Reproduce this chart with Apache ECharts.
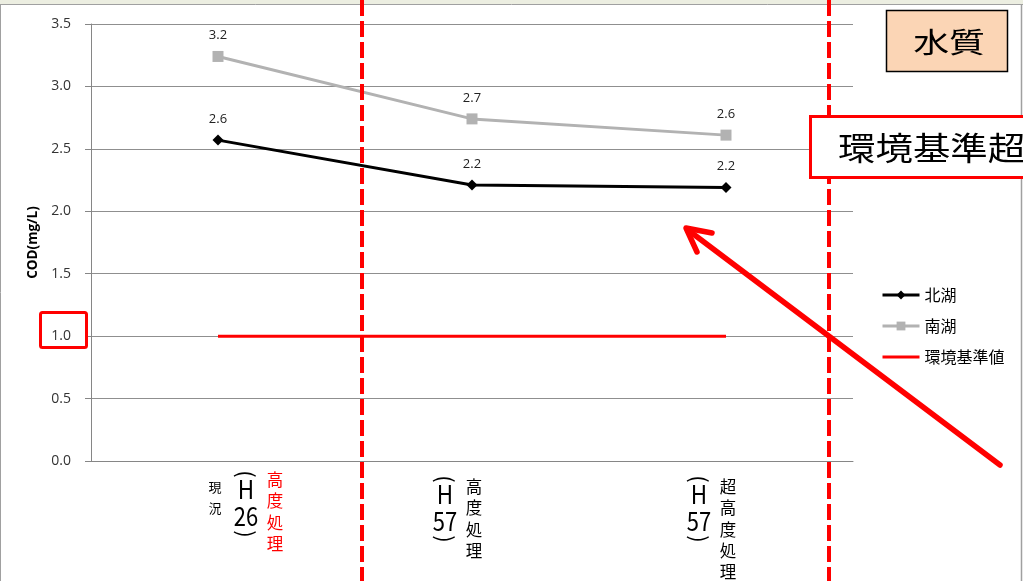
<!DOCTYPE html>
<html><head><meta charset="utf-8">
<script src="https://cdn.jsdelivr.net/npm/echarts@6/dist/echarts.min.js"></script>
<style>html,body{margin:0;padding:0;background:#fff}#c{width:1023px;height:581px}</style>
</head><body><div id="c"></div>
<script>
// ---- data ----
const categories = ['現況（H26）高度処理', '（H57）高度処理', '（H57）超高度処理'];
const noteCol = ['現況', '', ''];
const yearCol = ['26', '57', '57'];
const methodCol = ['高度処理', '高度処理', '超高度処理'];
const northLake = [2.57, 2.21, 2.19];
const southLake = [3.24, 2.74, 2.61];
const envStandard = [1.0, 1.0, 1.0];
const seriesNames = ['北湖', '南湖', '環境基準値'];
const yTicks = { min: 0, max: 3.5, interval: 0.5 };

const JP = '"Noto Sans CJK JP", "Noto Sans", sans-serif';
const NUM = '"Open Sans", "Noto Sans", sans-serif';

const chart = echarts.init(document.getElementById('c'), null, { renderer: 'canvas' });
const labelCfg = {
  show: true, position: 'top', distance: 9, fontSize: 13, color: '#222', fontFamily: NUM,
  formatter: p => p.value.toFixed(1)
};
chart.setOption({
  animation: false,
  backgroundColor: '#ffffff',
  grid: { left: 91, right: 170, top: 24, bottom: 120 },
  xAxis: {
    type: 'category', data: categories, boundaryGap: true,
    axisLine: { lineStyle: { color: '#868686', width: 1 } },
    axisTick: { length: 5, lineStyle: { color: '#868686' } },
    axisLabel: { show: false }
  },
  yAxis: {
    type: 'value', min: yTicks.min, max: yTicks.max, interval: yTicks.interval,
    name: 'COD(mg/L)', nameLocation: 'middle', nameGap: 50,
    nameTextStyle: { fontWeight: 'bold', fontSize: 13.5, color: '#000', fontFamily: NUM },
    axisLine: { show: true, lineStyle: { color: '#868686' } },
    axisTick: { show: true, length: 6, lineStyle: { color: '#868686' } },
    splitLine: { show: true, lineStyle: { color: '#8f8f8f', width: 1 } },
    axisLabel: { formatter: v => v.toFixed(1), fontSize: 14, color: '#333', margin: 20, fontFamily: NUM }
  },
  legend: {
    orient: 'vertical', left: 876, top: 282, itemWidth: 37, itemHeight: 11, itemGap: 15,
    lineStyle: { width: 3 },
    textStyle: { fontSize: 16, color: '#000', fontFamily: JP },
    data: [seriesNames[0], seriesNames[1],
      { name: seriesNames[2], itemStyle: { color: 'rgba(0,0,0,0)', borderWidth: 0, opacity: 0 } }]
  },
  series: [
    { name: seriesNames[1], type: 'line', data: southLake, symbol: 'rect', symbolSize: 11,
      lineStyle: { color: '#b2b2b2', width: 3 }, itemStyle: { color: '#b2b2b2' }, label: labelCfg, z: 3 },
    { name: seriesNames[0], type: 'line', data: northLake, symbol: 'diamond', symbolSize: 11,
      lineStyle: { color: '#000', width: 3 }, itemStyle: { color: '#000' }, label: labelCfg, z: 4 },
    { name: seriesNames[2], type: 'line', data: envStandard, symbol: 'none',
      lineStyle: { color: '#ff0000', width: 3 }, itemStyle: { color: '#ff0000' }, z: 2 }
  ]
});

// ---- annotations & stacked category labels ----
const g = [];
// frame
g.push({ type: 'rect', shape: { x: 0, y: 0, width: 1023, height: 4 }, style: { fill: '#eceee1' }, z: 1 });
g.push({ type: 'line', shape: { x1: 0, y1: 4.5, x2: 1023, y2: 4.5 }, style: { stroke: '#a0a0a0', lineWidth: 1 }, z: 1 });
g.push({ type: 'line', shape: { x1: 0.5, y1: 4, x2: 0.5, y2: 581 }, style: { stroke: '#a0a0a0', lineWidth: 1 }, z: 1 });
g.push({ type: 'line', shape: { x1: 1021.5, y1: 4, x2: 1021.5, y2: 581 }, style: { stroke: '#a0a0a0', lineWidth: 1.5 }, z: 1 });

const txt = (text, x, y, size, color, extra) => Object.assign({
  type: 'text', x, y, z: 50,
  style: { text, fontSize: size, fill: color, fontFamily: JP, align: 'center', verticalAlign: 'middle' }
}, extra || {});

categories.forEach((c, i) => {
  const cx = chart.convertToPixel({ xAxisIndex: 0 }, i);
  let yearX, methX, yBase, methY, methColor;
  if (noteCol[i]) {
    noteCol[i].split('').forEach((ch, k) => g.push(txt(ch, cx - 3, 487 + k * 21.5, 13, '#000')));
    yearX = cx + 28; methX = cx + 57; yBase = 474; methY = 480; methColor = '#ff0000';
  } else {
    yearX = cx - 27; methX = cx + 2; yBase = 479; methY = 487; methColor = '#000';
  }
  g.push(txt('(', yearX, yBase, 22, '#000', { rotation: -Math.PI / 2 }));
  g.push(txt('H', yearX, yBase + 15, 25, '#000', { scaleX: 0.9, scaleY: 1.05 }));
  g.push(txt(yearCol[i], yearX, yBase + 42, 25, '#000', { scaleX: 0.88, scaleY: 1.05 }));
  g.push(txt(')', yearX, yBase + 60, 22, '#000', { rotation: -Math.PI / 2 }));
  methodCol[i].split('').forEach((ch, k) => g.push(txt(ch, methX, methY + k * 21.2, 16.5, methColor)));
});

// red dashed vertical dividers
[362, 829].forEach(x => g.push({ type: 'line', shape: { x1: x, y1: 0, x2: x, y2: 581 },
  style: { stroke: '#ff0000', lineWidth: 4, lineDash: [16, 5] }, z: 60 }));

// red box around 1.0
g.push({ type: 'rect', shape: { x: 40.5, y: 312.5, width: 46, height: 35, r: 2 },
  style: { fill: null, stroke: '#ff0000', lineWidth: 3 }, z: 60 });

// 水質 box
g.push({ type: 'rect', shape: { x: 886.5, y: 10.5, width: 121, height: 61 },
  style: { fill: '#fbd5b5', stroke: '#000', lineWidth: 1.5 }, z: 60 });
g.push(txt('水質', 949, 42, 28, '#000', { z: 61, scaleX: 1.28 }));

// 環境基準超 box
g.push({ type: 'rect', shape: { x: 810.5, y: 116.5, width: 240, height: 61 },
  style: { fill: '#fff', stroke: '#ff0000', lineWidth: 3 }, z: 60 });
g.push({ type: 'text', x: 838, y: 148, z: 61, scaleX: 1.17,
  style: { text: '環境基準超', fontSize: 32, fill: '#000', fontFamily: JP, align: 'left', verticalAlign: 'middle' } });

// arrow
g.push({ type: 'line', shape: { x1: 1000, y1: 465, x2: 688, y2: 230 },
  style: { stroke: '#ff0000', lineWidth: 5.5, lineCap: 'round' }, z: 62 });
g.push({ type: 'polyline', shape: { points: [[712, 233], [686, 228], [697, 252]] },
  style: { stroke: '#ff0000', lineWidth: 5.5, lineCap: 'round', lineJoin: 'round', fill: null }, z: 62 });

chart.setOption({ graphic: g });
</script></body></html>
